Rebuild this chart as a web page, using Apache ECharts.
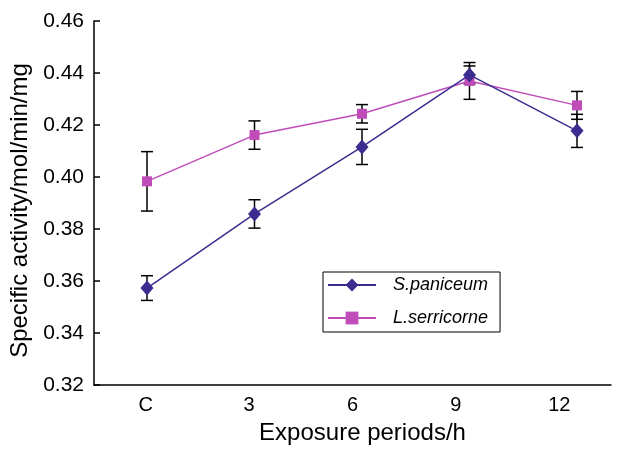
<!DOCTYPE html>
<html>
<head>
<meta charset="utf-8">
<script src="https://cdn.jsdelivr.net/npm/echarts@6/dist/echarts.min.js"></script>
<style>
  html, body { margin: 0; padding: 0; background: #fff; }
  #container { width: 629px; height: 450px; }
</style>
</head>
<body>
<div id="container"></div>
<script>
var categories = ['C', '3', '6', '9', '12'];
var yTicks = [0.32, 0.34, 0.36, 0.38, 0.40, 0.42, 0.44, 0.46];

// S.paniceum mean and error
var spMean = [0.3584, 0.3866, 0.4121, 0.4395, 0.4182];
var spErr  = [0.0047, 0.0054, 0.0067, 0.0034, 0.0063];
// L.serricorne
var lsMean = [0.3990, 0.4166, 0.4247, 0.4372, 0.4279];
var lsErr  = [0.0113, 0.0054, 0.0035, 0.0070, 0.0053];

var font = 'Liberation Sans, Arial, Helvetica, sans-serif';
var spColor = '#3b2c8f';
var lsColor = '#c04cba';

var dom = document.getElementById('container');
var myChart = echarts.init(dom, null, { renderer: 'canvas' });

var errData = function (mean, err) {
    return mean.map(function (m, i) {
        return [i, m - err[i], m + err[i]];
    });
};

var renderErr = function (params, api) {
    var lo = api.coord([api.value(0), api.value(1)]);
    var hi = api.coord([api.value(0), api.value(2)]);
    var w = 6;
    var st = { stroke: '#000', lineWidth: 1.5 };
    return {
        type: 'group',
        children: [
            { type: 'line', shape: { x1: lo[0], y1: lo[1], x2: hi[0], y2: hi[1] }, style: st },
            { type: 'line', shape: { x1: hi[0] - w, y1: hi[1], x2: hi[0] + w, y2: hi[1] }, style: st },
            { type: 'line', shape: { x1: lo[0] - w, y1: lo[1], x2: lo[0] + w, y2: lo[1] }, style: st }
        ]
    };
};

var option = {
    backgroundColor: '#fff',
    animation: false,
    grid: [
        { left: 94, right: 18, top: 21, bottom: 61 },   // visible axes
        { left: 147, right: 52, top: 21, bottom: 61 }   // data placement
    ],
    legend: {
        orient: 'vertical',
        left: 323,
        top: 272,
        padding: [4, 12, 5, 4],
        itemWidth: 48,
        itemHeight: 16,
        itemGap: 15,
        borderColor: '#000',
        borderWidth: 1,
        textStyle: {
            fontFamily: font,
            fontStyle: 'italic',
            fontSize: 18,
            color: '#000',
            padding: [0, 0, 0, 12]
        },
        data: ['S.paniceum', 'L.serricorne']
    },
    xAxis: [
        {
            type: 'category',
            gridIndex: 0,
            data: categories,
            boundaryGap: true,
            name: 'Exposure periods/h',
            nameLocation: 'middle',
            nameGap: 36,
            nameTextStyle: { fontFamily: font, fontSize: 24, color: '#000', padding: [0, 0, 0, 20] },
            axisLine: { lineStyle: { color: '#000', width: 1.5 } },
            axisTick: { inside: true, length: 6, lineStyle: { color: '#000', width: 1.5 } },
            axisLabel: { fontFamily: font, fontSize: 20, color: '#000', margin: 10 },
            splitLine: { show: false }
        },
        {
            type: 'category',
            gridIndex: 1,
            data: categories,
            boundaryGap: false,
            show: false
        }
    ],
    yAxis: [
        {
            type: 'value',
            gridIndex: 0,
            min: yTicks[0],
            max: yTicks[yTicks.length - 1],
            interval: 0.02,
            name: 'Specific activity/mol/min/mg',
            nameLocation: 'middle',
            nameGap: 59,
            nameTextStyle: { fontFamily: font, fontSize: 24, color: '#000', padding: [0, 15, 0, 0] },
            axisLine: { show: true, lineStyle: { color: '#000', width: 1.5 } },
            axisTick: { show: true, inside: true, length: 6, lineStyle: { color: '#000', width: 1.5 } },
            axisLabel: {
                fontFamily: font, fontSize: 21, color: '#000', margin: 10,
                formatter: function (v) { return v.toFixed(2); }
            },
            splitLine: { show: false }
        },
        {
            type: 'value',
            gridIndex: 1,
            min: yTicks[0],
            max: yTicks[yTicks.length - 1],
            interval: 0.02,
            show: false,
            splitLine: { show: false }
        }
    ],
    series: [
        {
            name: 'S.paniceum error',
            type: 'custom',
            xAxisIndex: 1,
            yAxisIndex: 1,
            z: 1,
            renderItem: renderErr,
            data: errData(spMean, spErr)
        },
        {
            name: 'L.serricorne error',
            type: 'custom',
            xAxisIndex: 1,
            yAxisIndex: 1,
            z: 1,
            renderItem: renderErr,
            data: errData(lsMean, lsErr)
        },
        {
            name: 'L.serricorne',
            type: 'line',
            xAxisIndex: 1,
            yAxisIndex: 1,
            z: 3,
            symbol: 'rect',
            symbolSize: 10,
            itemStyle: { color: lsColor },
            lineStyle: { color: lsColor, width: 1.5 },
            data: lsMean
        },
        {
            name: 'S.paniceum',
            type: 'line',
            xAxisIndex: 1,
            yAxisIndex: 1,
            z: 4,
            symbol: 'diamond',
            symbolSize: [13, 15],
            itemStyle: { color: spColor },
            lineStyle: { color: spColor, width: 1.5 },
            data: spMean
        }
    ]
};

myChart.setOption(option);
</script>
</body>
</html>
